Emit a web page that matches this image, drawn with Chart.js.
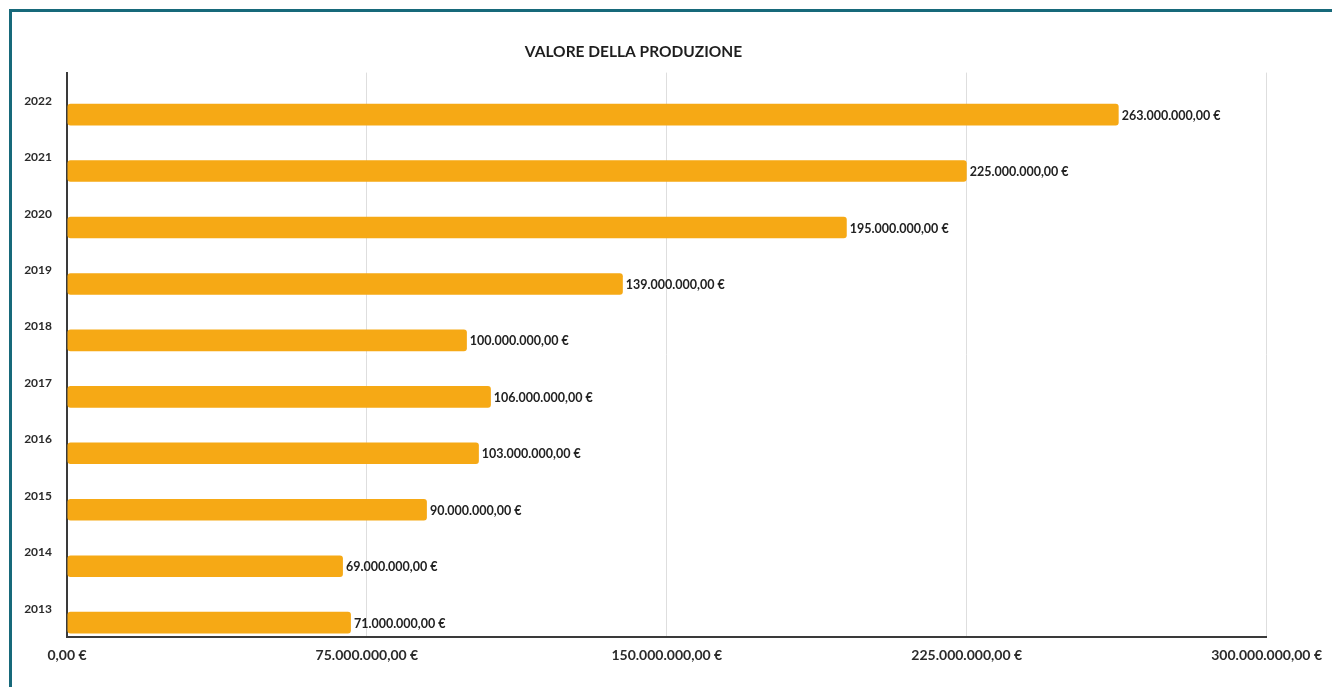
<!DOCTYPE html>
<html lang="it">
<head>
<meta charset="utf-8">
<title>Valore della produzione</title>
<script src="https://cdn.jsdelivr.net/npm/chart.js@4/dist/chart.umd.min.js"></script>
<style>
  html, body { margin: 0; padding: 0; background: #ffffff; overflow: hidden; }
  #wrap { position: relative; width: 1332px; height: 687px; }
  #frame {
    position: absolute; left: 9px; top: 9px; right: -10px; bottom: -10px;
    border-top: 3px solid #17697a; border-left: 3px solid #17697a;
    pointer-events: none;
  }
  canvas { position: absolute; left: 0; top: 0; }
</style>
</head>
<body>
<div id="wrap">
  <canvas id="chart" width="1332" height="687"></canvas>
  <div id="frame"></div>
</div>
<script>
// Anni (dall'alto in basso) e valore della produzione in euro
const anni = ['2022', '2021', '2020', '2019', '2018', '2017', '2016', '2015', '2014', '2013'];
const valori = [263000000, 225000000, 195000000, 139000000, 100000000, 106000000, 103000000, 90000000, 69000000, 71000000];
const tickMax = 300000000;
const tickStep = 75000000;
const titolo = 'VALORE DELLA PRODUZIONE';

// Formato italiano: 75.000.000,00 €
function euro(v) {
  const fixed = Math.abs(v).toFixed(2);
  const parts = fixed.split('.');
  const intPart = parts[0].replace(/\B(?=(\d{3})+(?!\d))/g, '.');
  return (v < 0 ? '-' : '') + intPart + ',' + parts[1] + ' €';
}

Chart.defaults.font.family = "Lato, 'Open Sans', sans-serif";
Chart.defaults.color = '#2b2b2b';

// Etichetta del valore alla fine di ogni barra
const etichetteValori = {
  id: 'etichetteValori',
  afterDatasetsDraw(chart) {
    const ctx = chart.ctx;
    const meta = chart.getDatasetMeta(1);
    ctx.save();
    ctx.font = "bold 12.5px Lato, 'Open Sans', sans-serif";
    ctx.fillStyle = '#222222';
    ctx.textAlign = 'left';
    ctx.textBaseline = 'middle';
    meta.data.forEach((bar, i) => {
      const v = chart.data.datasets[1].data[i];
      ctx.fillText(euro(v), bar.x + 3, bar.y + 1);
    });
    ctx.restore();
  }
};

new Chart(document.getElementById('chart'), {
  type: 'bar',
  data: {
    labels: anni,
    datasets: [
      {
        // serie vuota: riserva la metà superiore di ogni fascia
        label: '',
        data: anni.map(() => null),
        backgroundColor: 'rgba(0,0,0,0)'
      },
      {
        label: 'Valore della produzione',
        data: valori,
        backgroundColor: '#f6a915',
        borderRadius: 3,
        borderSkipped: false
      }
    ]
  },
  options: {
    indexAxis: 'y',
    responsive: false,
    devicePixelRatio: 1,
    animation: false,
    categoryPercentage: 0.98,
    barPercentage: 0.78,
    layout: { padding: { left: 0, right: 65, top: 0, bottom: 0 } },
    plugins: {
      legend: { display: false },
      tooltip: { enabled: false },
      title: {
        display: true,
        text: titolo,
        color: '#1e1e1e',
        font: { size: 15.5, weight: 'bold' },
        lineHeight: 1.2,
        padding: { top: 43, bottom: 11 }
      }
    },
    scales: {
      x: {
        min: 0,
        max: tickMax,
        ticks: {
          stepSize: tickStep,
          callback: (v) => euro(v),
          font: { size: 14, weight: 'bold' },
          color: '#2b2b2b',
          padding: 10,
          maxRotation: 0
        },
        grid: { color: '#dedede', lineWidth: 1, drawTicks: false },
        border: { display: true, color: '#3a3a3a', width: 2 },
        afterFit(scale) { scale.height = 50; }
      },
      y: {
        offset: true,
        ticks: {
          font: { size: 12, weight: 'bold' },
          color: '#2b2b2b',
          padding: 15
        },
        grid: { display: false, drawTicks: false },
        border: { display: true, color: '#3a3a3a', width: 2 },
        afterFit(scale) { scale.width = 67; }
      }
    }
  },
  plugins: [etichetteValori]
});
</script>
</body>
</html>
